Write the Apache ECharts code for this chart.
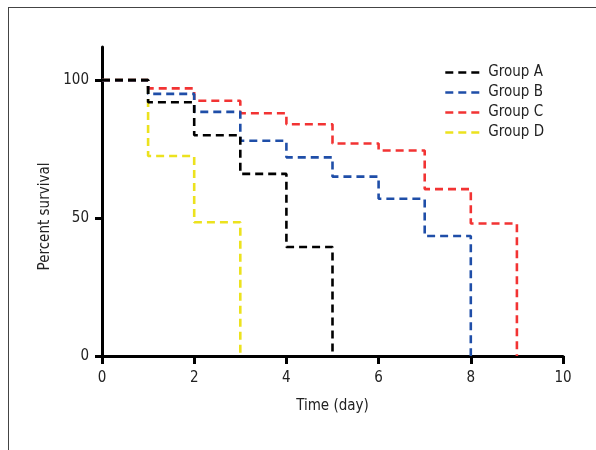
<!DOCTYPE html>
<html>
<head>
<meta charset="utf-8">
<script src="https://cdn.jsdelivr.net/npm/echarts@6/dist/echarts.min.js"></script>
<style>
html,body{margin:0;padding:0;background:#fff;}
#frame{position:absolute;left:8px;top:7px;width:588px;height:443px;border-left:1.5px solid #444;border-top:1.5px solid #444;box-sizing:border-box;}
#chart{position:absolute;left:0;top:0;width:596px;height:450px;}
</style>
</head>
<body>
<div id="frame"></div>
<div id="chart"></div>
<script>
// Kaplan-Meier style survival data: [day, percent survival]
const days = [0, 1, 2, 3, 4, 5, 6, 7, 8, 9];
const groupNames = ['Group A', 'Group B', 'Group C', 'Group D'];
const groupA = [100, 92, 80, 66, 39.5, 0];
const groupB = [100, 95, 88.5, 78, 72, 65, 57, 43.5, 0];
const groupC = [100, 97, 92.5, 88, 84, 77, 74.5, 60.5, 48, 0];
const groupD = [100, 72.5, 48.5, 0];
const xTicks = [0, 2, 4, 6, 8, 10];
const yTicks = [0, 50, 100];
const colors = ['#000000', '#1f4ea8', '#f23333', '#ece21e'];

const FONT = "'Liberation Sans Narrow', 'DejaVu Sans Condensed', sans-serif";
const toPts = vals => vals.map((v, i) => [days[i], v]);
const seriesVals = [groupA, groupB, groupC, groupD];
const order = [0, 1, 2, 3];

const series = order.map(k => ({
  name: groupNames[k],
  type: 'line',
  step: 'end',
  data: toPts(seriesVals[k]),
  showSymbol: false,
  symbol: 'none',
  z: 10 - k,
  lineStyle: { color: colors[k], width: 2.6, type: [8, 5] },
  itemStyle: { color: colors[k] },
  animation: false
}));

const chart = echarts.init(document.getElementById('chart'), null, { renderer: 'canvas' });
chart.setOption({
  backgroundColor: 'transparent',
  animation: false,
  textStyle: { fontFamily: FONT },
  grid: { left: 102, right: 33, top: 47, bottom: 94, containLabel: false },
  legend: {
    data: groupNames,
    orient: 'vertical',
    left: 439,
    top: 60,
    itemWidth: 38,
    itemHeight: 14,
    itemGap: 5,
    itemStyle: { opacity: 0 },
    lineStyle: { width: 2.6, type: [8, 5] },
    textStyle: { fontFamily: FONT, fontSize: 15, color: '#222' }
  },
  xAxis: {
    type: 'value',
    min: 0, max: 10, interval: 2,
    name: 'Time (day)',
    nameLocation: 'middle',
    nameGap: 43,
    nameTextStyle: { fontFamily: FONT, fontSize: 15, color: '#222' },
    axisLine: { show: true, onZero: false, lineStyle: { color: '#000', width: 3 } },
    axisTick: { show: true, inside: false, length: 8, lineStyle: { color: '#000', width: 3 }, customValues: xTicks },
    axisLabel: { fontFamily: FONT, fontSize: 15, color: '#222', margin: 15 },
    splitLine: { show: false }
  },
  yAxis: {
    type: 'value',
    min: 0, max: 112,
    name: 'Percent survival',
    nameLocation: 'middle',
    nameGap: 37,
    nameTextStyle: { fontFamily: FONT, fontSize: 15, color: '#222', padding: [0, 30, 0, 0] },
    axisLine: { show: true, onZero: false, lineStyle: { color: '#000', width: 3 } },
    axisTick: { show: true, length: 7, lineStyle: { color: '#000', width: 3 }, customValues: yTicks },
    axisLabel: { fontFamily: FONT, fontSize: 15, color: '#222', margin: 13, customValues: yTicks },
    splitLine: { show: false }
  },
  series: series
});
</script>
</body>
</html>
